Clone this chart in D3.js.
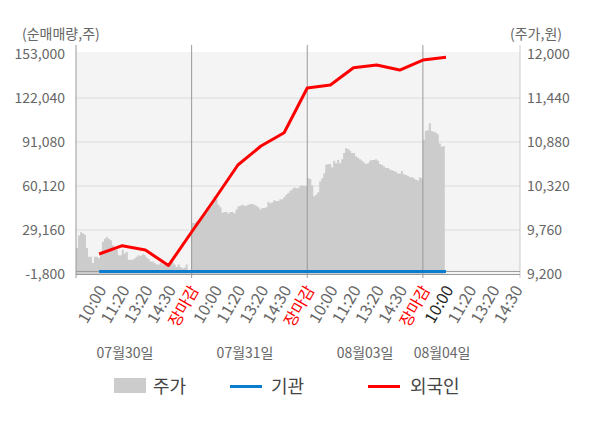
<!DOCTYPE html>
<html><head><meta charset="utf-8">
<script src="https://cdn.jsdelivr.net/npm/d3@7/dist/d3.min.js"></script>
<style>
body{margin:0;background:#fff;}
text{font-family:"Noto Sans CJK KR","Noto Sans",sans-serif;}
</style></head>
<body><svg id="c" width="600" height="428"></svg>
<script>
const xLabels = ["10:00","11:20","13:20","14:30","장마감","10:00","11:20","13:20","14:30","장마감","10:00","11:20","13:20","14:30","장마감","10:00","11:20","13:20","14:30"];
const dates = ["07월30일","07월31일","08월03일","08월04일"];
const datePos = [2.12, 7.31, 12.5, 15.83];
const leftTicks = [-1800, 29160, 60120, 91080, 122040, 153000];
const rightTicks = [9200, 9760, 10320, 10880, 11440, 12000];
const foreign = [12270, 18110, 15090, 4180, 27750, 50970, 74890, 88260, 97620, 129070, 131180, 143360, 145250, 141730, 148770, 150680];
const inst = [0,0,0,0,0,0,0,0,0,0,0,0,0,0,0,0];
const price0730 = [9530,9690,9730,9720,9700,9530,9420,9420,9340,9420,9420,9400,9480,9610,9650,9670,9650,9630,9570,9510,9510,9440,9440,9510,9460,9480,9380,9380,9380,9400,9420,9440,9430,9450,9440,9410,9390,9360,9360,9340,9320,9320,9340,9320,9320,9340,9340,9380,9360,9320,9290,9320,9290,9270,9280,9320,9250];
const price0731 = [9850,9850,9870,9890,9910,9930,9950,9980,10020,10050,10100,10190,10150,10080,10050,9980,9990,9990,9970,9990,9990,9970,10020,10060,10070,10080,10070,10070,10080,10090,10090,10080,10070,10050,10020,10040,10040,10050,10120,10100,10110,10140,10130,10130,10150,10150,10180,10210,10230,10260,10280,10300,10290,10290,10320,10330,10320,10320];
const price0803 = [10420,10410,10330,10190,10210,10240,10380,10420,10480,10590,10600,10600,10560,10640,10610,10650,10610,10660,10740,10800,10790,10770,10740,10740,10700,10680,10660,10640,10620,10600,10610,10640,10650,10650,10660,10640,10600,10590,10570,10550,10550,10530,10520,10510,10500,10480,10480,10510,10470,10460,10450,10430,10430,10420,10400,10390,10430,10420];
const price0804 = [10910,11020,11030,11120,11020,11010,11000,10980,10860,10820,10830];

const L = 76, R = 520, T = 54, B = 274;
const SLOTS = 19.2, PER_DAY = 5, SAMPLES = 58, STEP = PER_DAY / SAMPLES;
const x = d3.scaleLinear().domain([0, SLOTS]).range([L, R]);
const yL = d3.scaleLinear().domain([-1800, 153000]).range([B, T]);
const yR = d3.scaleLinear().domain([9200, 12000]).range([B, T]);
const svg = d3.select("#c");
const grayTxt = "#666";
const fmt = v => d3.format(",")(v).replace("\u2212", "-");

svg.append("rect").attr("x", L).attr("y", T - 2).attr("width", R - L).attr("height", B - T + 2).attr("fill", "#f4f4f4");
svg.append("g").selectAll("line").data(leftTicks.slice(1, -1)).join("line")
  .attr("x1", L).attr("x2", R).attr("y1", d => yL(d)).attr("y2", d => yL(d))
  .attr("stroke", "#dcdcdc").attr("stroke-width", 1);

// price area
const pts = [];
[price0730, price0731, price0803, price0804].forEach((arr, d) => {
  arr.forEach((v, i) => pts.push([d * PER_DAY + i * STEP, v]));
  if (d === 3) pts.push([d * PER_DAY + arr.length * STEP, arr[arr.length - 1]]);
});
svg.append("path").datum(pts)
  .attr("d", d3.area().curve(d3.curveStepAfter).x(d => x(d[0])).y0(B).y1(d => yR(d[1])))
  .attr("fill", "#cccccc");

// separators and axis lines
svg.append("g").selectAll("line").data([0, 5, 10, 15, SLOTS]).join("line")
  .attr("x1", d => x(d)).attr("x2", d => x(d)).attr("y1", 45).attr("y2", B + 4)
  .attr("stroke", d => d === SLOTS ? "#ccc" : "#999").attr("stroke-width", 1);
svg.append("line").attr("x1", L).attr("x2", R).attr("y1", B + 0.5).attr("y2", B + 0.5).attr("stroke", "#999");
svg.append("line").attr("x1", L).attr("x2", R).attr("y1", yL(0)).attr("y2", yL(0)).attr("stroke", "#999");

const slotX = i => x(i + 1);
svg.append("path").datum(inst).attr("fill", "none").attr("stroke", "#0b7dd0").attr("stroke-width", 3)
  .attr("d", d3.line().x((d, i) => slotX(i)).y(d => yL(d)));
svg.append("path").datum(foreign).attr("fill", "none").attr("stroke", "#ff0000").attr("stroke-width", 3)
  .attr("stroke-linejoin", "round")
  .attr("d", d3.line().x((d, i) => slotX(i)).y(d => yL(d)));

// left axis
const ga = svg.append("g").attr("transform", `translate(${L},0)`)
  .call(d3.axisLeft(yL).tickValues(leftTicks).tickFormat(fmt).tickSize(0).tickPadding(11));
ga.select(".domain").remove();
ga.selectAll("text").attr("fill", grayTxt).style("font-size", "14px").style("font-family", '"Noto Sans CJK KR","Noto Sans",sans-serif');
const gb = svg.append("g").attr("transform", `translate(${R},0)`)
  .call(d3.axisRight(yR).tickValues(rightTicks).tickFormat(fmt).tickSize(0).tickPadding(7));
gb.select(".domain").remove();
gb.selectAll("text").attr("fill", grayTxt).style("font-size", "14px").style("font-family", '"Noto Sans CJK KR","Noto Sans",sans-serif');

svg.append("text").attr("x", 22).attr("y", 39).attr("fill", grayTxt).style("font-size", "14px").text("(순매매량,주)");
svg.append("text").attr("x", 562).attr("y", 39).attr("text-anchor", "end").attr("fill", grayTxt).style("font-size", "14px").text("(주가,원)");

// x labels
svg.append("g").selectAll("text").data(xLabels).join("text")
  .attr("transform", (d, i) => `translate(${slotX(i) + 3},${B + 13}) rotate(-60)`)
  .attr("text-anchor", "end").attr("dy", "0.35em")
  .attr("fill", (d, i) => d === "장마감" ? "#ff0000" : (i === 15 ? "#222" : grayTxt))
  .style("font-size", "16px").text(d => d);

svg.append("g").selectAll("text").data(dates).join("text")
  .attr("x", (d, i) => x(datePos[i])).attr("y", 358).attr("text-anchor", "middle")
  .attr("fill", grayTxt).style("font-size", "14px").text(d => d);

// legend
const lg = svg.append("g");
lg.append("rect").attr("x", 114).attr("y", 378).attr("width", 32).attr("height", 15).attr("fill", "#cccccc");
lg.append("text").attr("x", 153).attr("y", 392.5).attr("fill", "#444").style("font-size", "18px").text("주가");
lg.append("line").attr("x1", 230).attr("x2", 262).attr("y1", 386.5).attr("y2", 386.5).attr("stroke", "#0b7dd0").attr("stroke-width", 3);
lg.append("text").attr("x", 271).attr("y", 392.5).attr("fill", "#444").style("font-size", "18px").text("기관");
lg.append("line").attr("x1", 368).attr("x2", 400).attr("y1", 386.5).attr("y2", 386.5).attr("stroke", "#ff0000").attr("stroke-width", 3);
lg.append("text").attr("x", 410).attr("y", 392.5).attr("fill", "#444").style("font-size", "18px").text("외국인");
</script></body></html>
